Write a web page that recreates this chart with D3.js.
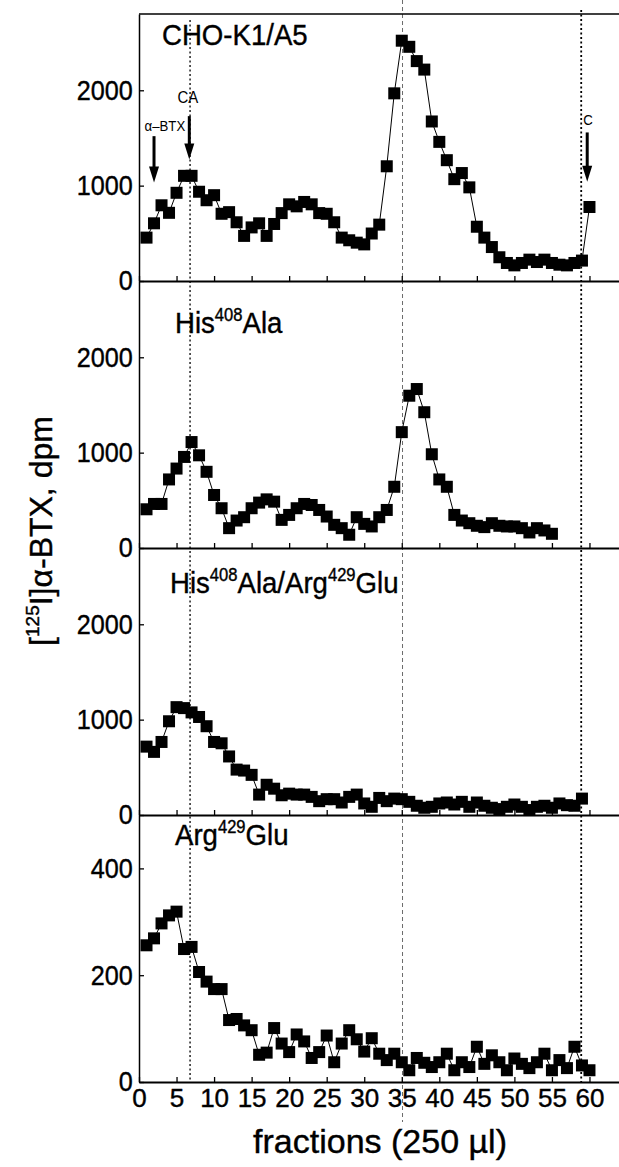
<!DOCTYPE html>
<html>
<head>
<meta charset="utf-8">
<script src="https://cdn.jsdelivr.net/npm/d3@7"></script>
<style>
    body { margin: 0; background: #fff; }
    text { font-family: Arial, "Liberation Sans", sans-serif; fill: #000; }
    .heavy { stroke: #000; stroke-width: 0.4px; }
</style>
</head>
<body>
<svg id="chart" width="619" height="1167"></svg>
<script>
// fraction numbers (250 µl each)
var fractions = [1,2,3,4,5,6,7,8,9,10,11,12,13,14,15,16,17,18,19,20,
    21,22,23,24,25,26,27,28,29,30,31,32,33,34,35,36,37,38,39,40,
    41,42,43,44,45,46,47,48,49,50,51,52,53,54,55,56,57,58,59,60];

// dpm per fraction, one array per construct
var choK1A5 = [455,605,794,715,925,1103,1103,936,847,900,705,722,616,473,562,605,473,598,712,804,
    783,829,804,712,705,616,455,427,402,384,498,591,1203,1968,2520,2456,2306,2217,1673,1459,
    1267,1068,1132,982,569,455,356,249,189,164,189,224,199,224,189,171,164,189,214,776];
var his408Ala = [406,462,462,719,833,955,1111,972,799,556,417,208,288,323,417,476,510,486,295,347,
    417,462,451,399,330,243,208,139,323,253,226,323,399,642,1215,1597,1667,1424,983,719,
    642,347,288,260,233,219,260,233,226,226,208,163,208,184,149];
var his408AlaArg429Glu = [717,662,766,983,1131,1121,1076,1028,931,766,752,614,476,466,421,214,317,276,207,224,
    214,214,190,145,166,166,131,190,214,121,86,179,145,172,166,138,97,76,86,121,
    131,110,138,86,131,97,76,62,86,110,86,52,86,97,76,121,103,97,172];
var arg429Glu = [256,269,297,312,319,249,253,206,188,174,174,116,118,106,97,51,55,101,72,56,
    89,76,45,56,87,37,72,97,80,57,82,53,41,53,37,22,45,36,28,37,
    53,22,37,28,66,34,50,37,22,44,34,26,37,53,22,41,26,66,31,22];

var xTicks = [0,5,10,15,20,25,30,35,40,45,50,55,60];
var yTicksLarge = [0,1000,2000];
var yTicksSmall = [0,200,400];

// marker lines (fraction) and arrows
var markerLines = [6.8, 35.1, 58.9];
var arrows = [
    {label: "\u03b1\u2013BTX", at: 2, labelAt: 3.45, from: 1519, to: 1032, labelY: 1572},
    {label: "CA", at: 6.7, labelAt: 6.5, from: 1729, to: 1274, labelY: 1863},
    {label: "C", at: 59.7, labelAt: 59.8, from: 1558, to: 1042, labelY: 1632}
];

var panels = [
    {name: [["CHO-K1/A5", 0]], values: choK1A5, max: 2800, ticks: yTicksLarge, nameX: 162, nameY: 31},
    {name: [["His", 0], ["408", 1], ["Ala", 0]], values: his408Ala, max: 2800, ticks: yTicksLarge, nameX: 175, nameY: 52},
    {name: [["His", 0], ["408", 1], ["Ala/Arg", 0], ["429", 1], ["Glu", 0]], values: his408AlaArg429Glu, max: 2800, ticks: yTicksLarge, nameX: 170, nameY: 45},
    {name: [["Arg", 0], ["429", 1], ["Glu", 0]], values: arg429Glu, max: 500, ticks: yTicksSmall, nameX: 175, nameY: 30}
];

var svg = d3.select("#chart"),
    left = 139,
    top0 = 14,
    panelH = 267,
    plotRight = 619.5;

var x = d3.scaleLinear().domain([0, 64]).range([left, plotRight]);
var bottomAll = top0 + panels.length * panelH;

// dotted reference lines
svg.append("line")
    .attr("x1", x(markerLines[0])).attr("x2", x(markerLines[0]))
    .attr("y1", 20).attr("y2", bottomAll)
    .attr("stroke", "#000").attr("stroke-width", 1.3).attr("stroke-dasharray", "2,2.5");
svg.append("line")
    .attr("x1", x(markerLines[1])).attr("x2", x(markerLines[1]))
    .attr("y1", 0).attr("y2", bottomAll + 40)
    .attr("stroke", "#444").attr("stroke-width", 0.8).attr("stroke-dasharray", "4,3");
svg.append("line")
    .attr("x1", x(markerLines[2])).attr("x2", x(markerLines[2]))
    .attr("y1", 10).attr("y2", bottomAll)
    .attr("stroke", "#000").attr("stroke-width", 1.8).attr("stroke-dasharray", "2,2.5");

var line = d3.line()
    .x(function(d, i) { return x(fractions[i]); });

panels.forEach(function(p, idx) {
    var top = top0 + idx * panelH,
        bottom = top + panelH;
    var y = d3.scaleLinear().domain([0, p.max]).range([bottom, top]);
    var g = svg.append("g");

    line.y(function(d) { return y(d); });
    g.append("path")
        .datum(p.values)
        .attr("fill", "none")
        .attr("stroke", "#000")
        .attr("stroke-width", 1)
        .attr("d", line);

    g.selectAll("rect.pt")
        .data(p.values)
        .enter().append("rect")
        .attr("class", "pt")
        .attr("x", function(d, i) { return x(fractions[i]) - 6; })
        .attr("y", function(d) { return y(d) - 6; })
        .attr("width", 12)
        .attr("height", 12)
        .attr("fill", "#000");

    // x axis on the zero line, ticks pointing in
    var xAxis = d3.axisBottom(x).tickValues(xTicks)
        .tickSizeInner(-5).tickSizeOuter(0).tickPadding(7)
        .tickFormat(d3.format("d"));
    if (idx < panels.length - 1) xAxis.tickFormat("");
    var xg = g.append("g")
        .attr("transform", "translate(0," + bottom + ")")
        .call(xAxis);
    xg.select(".domain").attr("stroke-width", 2.2);
    xg.selectAll(".tick line").attr("stroke-width", 1.3);
    xg.selectAll(".tick text")
        .attr("class", "heavy")
        .attr("font-size", 26)
        .attr("font-family", "Arial, 'Liberation Sans', sans-serif");

    var yAxis = d3.axisLeft(y).tickValues(p.ticks)
        .tickSizeInner(-5).tickSizeOuter(0).tickPadding(7)
        .tickFormat(d3.format("d"));
    var yg = g.append("g")
        .attr("transform", "translate(" + left + ",0)")
        .call(yAxis);
    yg.select(".domain").attr("stroke-width", 1.5);
    yg.selectAll(".tick line").attr("stroke-width", 1.3);
    yg.selectAll(".tick text")
        .attr("class", "heavy")
        .attr("font-size", 28)
        .attr("font-family", "Arial, 'Liberation Sans', sans-serif")
        .attr("transform", "scale(0.9,1)");

    // construct name
    var t = g.append("text")
        .attr("class", "heavy")
        .attr("transform", "translate(" + p.nameX + "," + (top + p.nameY) + ") scale(0.92,1)")
        .attr("font-size", 30);
    p.name.forEach(function(part) {
        t.append("tspan")
            .attr("font-size", part[1] ? 18 : 30)
            .attr("dy", part[1] ? -12 : (t.selectAll("tspan").size() > 1 ? 12 : 0))
            .text(part[0]);
    });

    if (idx === 0) {
        svg.append("line")
            .attr("x1", left).attr("x2", plotRight)
            .attr("y1", top).attr("y2", top)
            .attr("stroke", "#000").attr("stroke-width", 1.5);

        arrows.forEach(function(a) {
            var ax = x(a.at), y1 = y(a.from), y2 = y(a.to);
            g.append("line")
                .attr("x1", ax).attr("x2", ax)
                .attr("y1", y1).attr("y2", y2 - 12)
                .attr("stroke", "#000").attr("stroke-width", 3);
            g.append("path")
                .attr("d", "M" + (ax - 5) + "," + (y2 - 16) + "L" + (ax + 5) + "," + (y2 - 16) + "L" + ax + "," + y2 + "Z")
                .attr("fill", "#000");
            g.append("text")
                .attr("transform", "translate(" + x(a.labelAt) + "," + y(a.labelY) + ") scale(0.88,1)")
                .attr("text-anchor", "middle")
                .attr("font-size", a.label === "CA" ? 17 : 15)
                .text(a.label);
        });
    }
});

// axis titles
var yt = svg.append("text")
    .attr("class", "heavy")
    .attr("transform", "translate(52,531) rotate(-90)")
    .attr("text-anchor", "middle")
    .attr("font-size", 32);
yt.append("tspan").text("[");
yt.append("tspan").attr("font-size", 19).attr("dy", -13).text("125");
yt.append("tspan").attr("dy", 13).text("I]\u03b1-BTX, dpm");

svg.append("text")
    .attr("class", "heavy")
    .attr("x", 380)
    .attr("y", 1153)
    .attr("text-anchor", "middle")
    .attr("font-size", 34)
    .text("fractions (250 \u00b5l)");
</script>
</body>
</html>
